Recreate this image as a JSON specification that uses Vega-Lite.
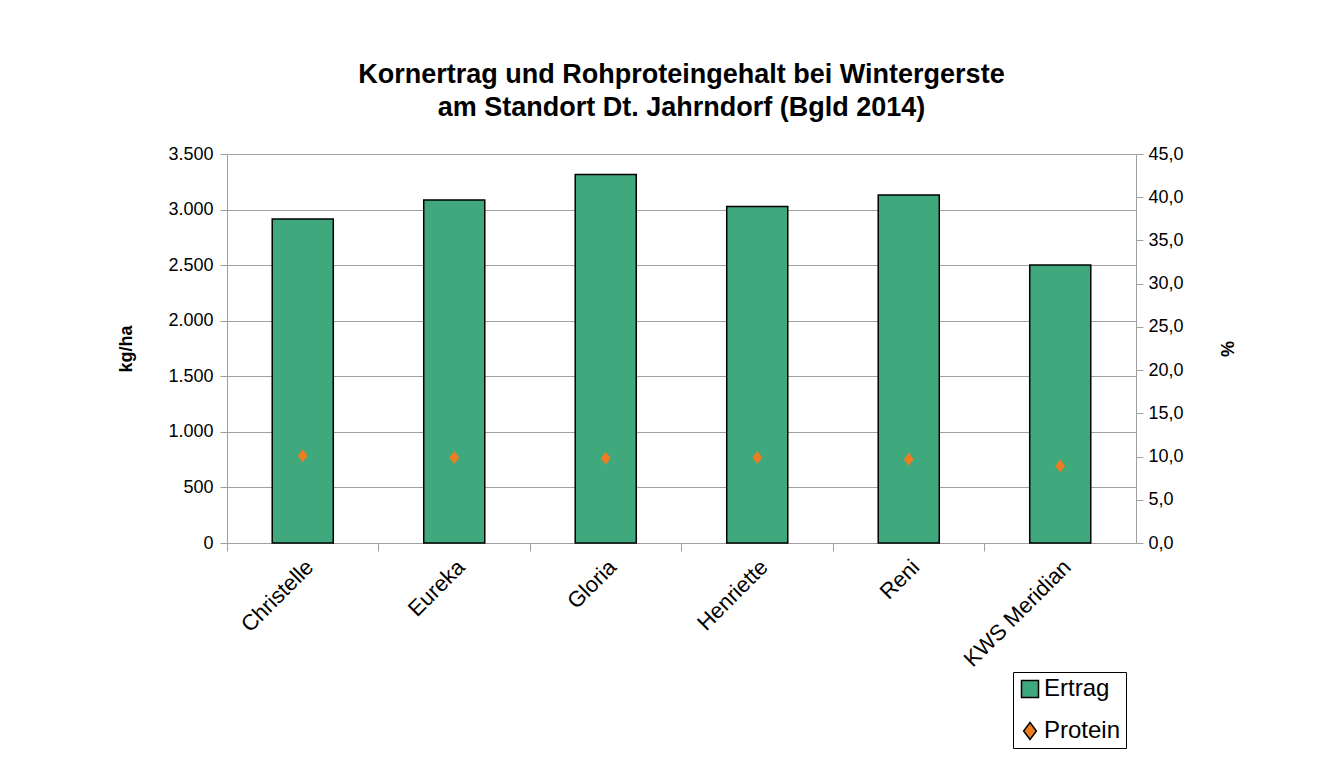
{
  "$schema": "https://vega.github.io/schema/vega-lite/v6.json",
  "width": 909,
  "height": 389,
  "autosize": {"type": "none"},
  "padding": {"left": 227, "top": 154, "right": 201, "bottom": 237},
  "background": "white",
  "title": {
    "text": ["Kornertrag und Rohproteingehalt bei Wintergerste", "am Standort Dt. Jahrndorf (Bgld 2014)"],
    "fontSize": 27,
    "font": "Liberation Sans",
    "fontWeight": "bold",
    "anchor": "middle",
    "frame": "group",
    "offset": 23,
    "lineHeight": 33,
    "color": "black"
  },
  "config": {
    "view": {"stroke": null},
    "font": "Liberation Sans",
    "axis": {"labelFont": "Liberation Sans", "titleFont": "Liberation Sans", "labelColor": "black", "titleColor": "black"}
  },
  "data": {
    "values": [
      {"Sorte": "Christelle", "Ertrag": 2915, "Protein": 10.1},
      {"Sorte": "Eureka", "Ertrag": 3085, "Protein": 9.9},
      {"Sorte": "Gloria", "Ertrag": 3315, "Protein": 9.8},
      {"Sorte": "Henriette", "Ertrag": 3027, "Protein": 9.9},
      {"Sorte": "Reni", "Ertrag": 3132, "Protein": 9.7},
      {"Sorte": "KWS Meridian", "Ertrag": 2502, "Protein": 8.9}
    ]
  },
  "layer": [
    {
      "mark": {"type": "bar", "stroke": "black", "strokeWidth": 1.5, "width": {"band": 0.403}},
      "encoding": {
        "x": {
          "field": "Sorte", "type": "nominal", "sort": null,
          "scale": {"paddingInner": 0, "paddingOuter": 0},
          "axis": {"orient": "bottom", "bandPosition": 0, "labels": false, "title": null, "tickSize": 8, "domainColor": "#a0a0a0", "tickColor": "#a0a0a0", "grid": false}
        },
        "y": {
          "field": "Ertrag", "type": "quantitative",
          "scale": {"domain": [0, 3500]},
          "axis": {
            "orient": "left",
            "title": "kg/ha", "titleFontSize": 18, "titleFontWeight": "bold", "titlePadding": 32,
            "labelFontSize": 18, "labelPadding": 7, "tickSize": 7,
            "values": [0, 500, 1000, 1500, 2000, 2500, 3000, 3500],
            "labelExpr": "replace(format(datum.value, ','), ',', '.')",
            "grid": true, "gridColor": "#a0a0a0", "domainColor": "#a0a0a0", "tickColor": "#a0a0a0"
          }
        },
        "color": {
          "datum": "Ertrag",
          "scale": {"domain": ["Ertrag", "Protein"], "range": ["#3fa87c", "#ee7d22"]},
          "legend": {
            "orient": "none", "legendX": 786, "legendY": 518,
            "title": null, "strokeColor": "black", "fillColor": "white",
            "padding": 5, "labelFontSize": 24, "labelColor": "black", "labelFont": "Liberation Sans",
            "symbolSize": 289, "rowPadding": 18, "labelOffset": 2,
            "encode": {
              "symbols": {
                "update": {
                  "stroke": {"signal": "datum.value === 'Ertrag' ? 'black' : '#ee7d22'"},
                  "strokeWidth": {"signal": "datum.value === 'Ertrag' ? 1 : 0"},
                  "size": {"signal": "datum.value === 'Ertrag' ? 289 : 441"},
                  "fillOpacity": {"value": 1}
                }
              }
            }
          }
        }
      }
    },
    {
      "mark": {"type": "point", "filled": true, "opacity": 1, "size": 169},
      "encoding": {
        "x": {
          "field": "Sorte", "type": "nominal", "sort": null,
          "axis": {"orient": "bottom", "domain": false, "ticks": false, "title": null, "labelAngle": -45, "labelFontSize": 22, "labelPadding": 13, "grid": false, "labelAlign": "right", "labelBaseline": "top"}
        },
        "y": {
          "field": "Protein", "type": "quantitative",
          "scale": {"domain": [0, 45]},
          "axis": {
            "orient": "right",
            "title": "%", "titleFontSize": 18, "titleFontWeight": "bold", "titlePadding": 33,
            "labelFontSize": 18, "labelPadding": 5, "tickSize": 7,
            "values": [0, 5, 10, 15, 20, 25, 30, 35, 40, 45],
            "labelExpr": "replace(format(datum.value, '.1f'), '.', ',')",
            "grid": false, "domainColor": "#a0a0a0", "tickColor": "#a0a0a0"
          }
        },
        "color": {"datum": "Protein"},
        "shape": {
          "datum": "Protein",
          "scale": {"domain": ["Ertrag", "Protein"], "range": ["square", "M0,-1L0.75,0L0,1L-0.75,0Z"]}
        }
      }
    }
  ],
  "resolve": {"scale": {"y": "independent"}, "axis": {"x": "independent", "y": "independent"}}
}
